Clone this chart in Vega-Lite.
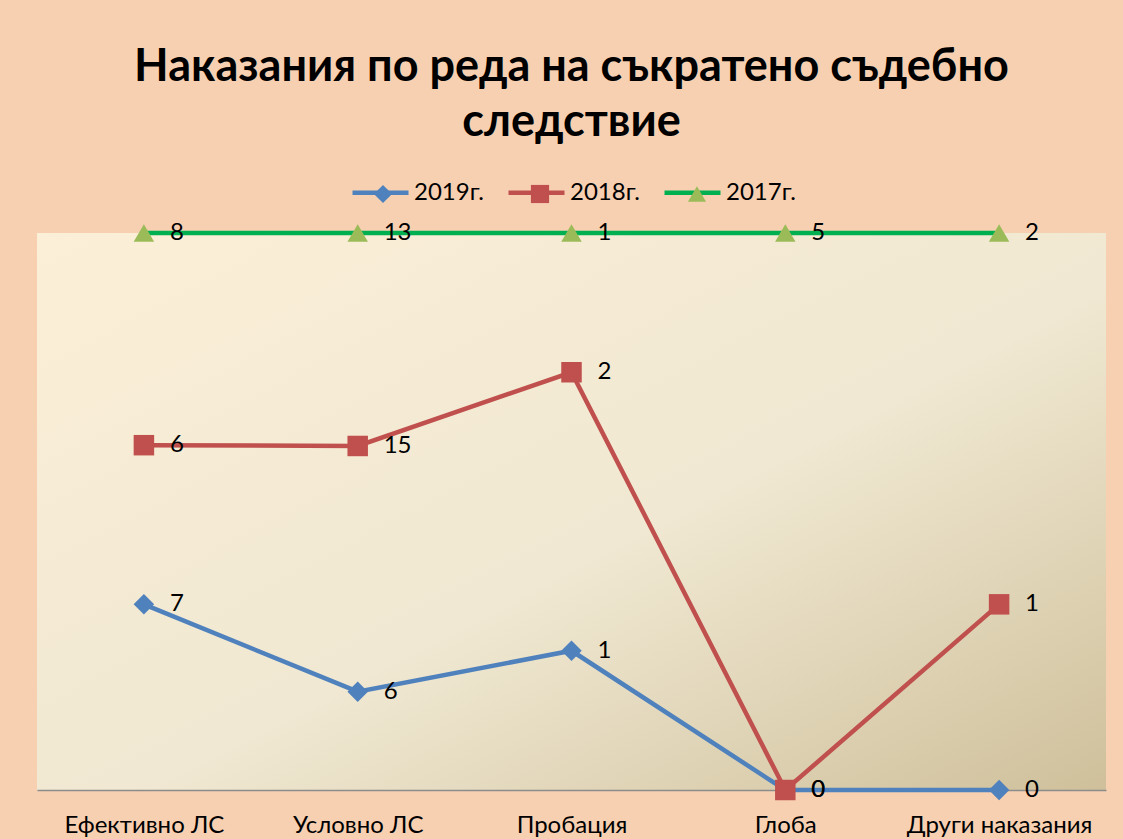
{
  "$schema": "https://vega.github.io/schema/vega-lite/v6.json",
  "width": 1069,
  "height": 557,
  "autosize": {"type": "none"},
  "padding": {"left": 37, "top": 233, "right": 17, "bottom": 49},
  "background": "#F7D0B2",
  "title": {
    "text": ["Наказания по реда на съкратено съдебно", "следствие"],
    "font": "Lato",
    "fontSize": 45,
    "fontWeight": "bold",
    "lineHeight": 55,
    "color": "#000000",
    "anchor": "middle",
    "offset": 17
  },
  "config": {
    "view": {
      "stroke": null,
      "fill": {
        "gradient": "linear",
        "x1": 0, "y1": 0, "x2": 1, "y2": 1,
        "stops": [
          {"offset": 0, "color": "#FCEFD7"},
          {"offset": 0.55, "color": "#F0E8D2"},
          {"offset": 1, "color": "#CFC09B"}
        ]
      }
    },
    "font": "Lato"
  },
  "data": {
    "values": [
      {"cat": "Ефективно ЛС", "series": "2019г.", "value": 7},
      {"cat": "Условно ЛС", "series": "2019г.", "value": 6},
      {"cat": "Пробация", "series": "2019г.", "value": 1},
      {"cat": "Глоба", "series": "2019г.", "value": 0},
      {"cat": "Други наказания", "series": "2019г.", "value": 0},
      {"cat": "Ефективно ЛС", "series": "2018г.", "value": 6},
      {"cat": "Условно ЛС", "series": "2018г.", "value": 15},
      {"cat": "Пробация", "series": "2018г.", "value": 2},
      {"cat": "Глоба", "series": "2018г.", "value": 0},
      {"cat": "Други наказания", "series": "2018г.", "value": 1},
      {"cat": "Ефективно ЛС", "series": "2017г.", "value": 8},
      {"cat": "Условно ЛС", "series": "2017г.", "value": 13},
      {"cat": "Пробация", "series": "2017г.", "value": 1},
      {"cat": "Глоба", "series": "2017г.", "value": 5},
      {"cat": "Други наказания", "series": "2017г.", "value": 2}
    ]
  },
  "transform": [
    {
      "stack": "value",
      "groupby": ["cat"],
      "sort": [{"field": "series", "order": "descending"}],
      "offset": "normalize",
      "as": ["y0", "y1"]
    }
  ],
  "encoding": {
    "x": {
      "field": "cat",
      "type": "nominal",
      "sort": ["Ефективно ЛС", "Условно ЛС", "Пробация", "Глоба", "Други наказания"],
      "scale": {"type": "point", "padding": 0.5},
      "axis": {
        "title": null,
        "labelAngle": 0,
        "labelFontSize": 24,
        "labelColor": "#000000",
        "labelPadding": 23,
        "labelLimit": 400,
        "ticks": false,
        "grid": false,
        "domainColor": "#8C8C8C",
        "domainWidth": 1.5
      }
    },
    "y": {
      "field": "y1",
      "type": "quantitative",
      "scale": {"domain": [0, 1], "nice": false, "zero": true},
      "axis": null
    }
  },
  "layer": [
    {
      "mark": {"type": "line", "strokeWidth": 4.5},
      "encoding": {
        "color": {
          "field": "series",
          "type": "nominal",
          "scale": {"domain": ["2019г.", "2018г.", "2017г."], "range": ["#4F81BD", "#C0504D", "#00B050"]},
          "legend": {
            "title": null,
            "orient": "none",
            "direction": "horizontal",
            "legendX": 313,
            "legendY": -71,
            "symbolType": "stroke",
            "symbolSize": 3136,
            "symbolStrokeWidth": 4.5,
            "labelFontSize": 24,
            "labelColor": "#000000",
            "labelOffset": 3,
            "columnPadding": 15
          }
        }
      }
    },
    {
      "mark": {"type": "point", "filled": true, "size": 420, "opacity": 1},
      "encoding": {
        "shape": {
          "field": "series",
          "type": "nominal",
          "sort": "descending",
          "scale": {"range": ["diamond", "square", "triangle-up"]},
          "legend": {
            "title": null,
            "orient": "none",
            "direction": "horizontal",
            "legendX": 313,
            "legendY": -51,
            "symbolSize": 330,
            "symbolStrokeWidth": 0,
            "symbolOffset": 21,
            "labelFontSize": 24,
            "labelColor": "#000000",
            "labelOpacity": 0,
            "labelOffset": 17,
            "columnPadding": 25
          }
        },
        "fill": {
          "field": "series",
          "type": "nominal",
          "sort": "descending",
          "scale": {"range": ["#4F81BD", "#C0504D", "#9BBB59"]},
          "legend": {
            "title": null,
            "orient": "none",
            "direction": "horizontal",
            "legendX": 313,
            "legendY": -51,
            "symbolSize": 330,
            "symbolStrokeWidth": 0,
            "symbolOffset": 21,
            "labelFontSize": 24,
            "labelColor": "#000000",
            "labelOpacity": 0,
            "labelOffset": 17,
            "columnPadding": 25
          }
        }
      }
    },
    {
      "mark": {"type": "text", "align": "left", "baseline": "middle", "dx": 26, "fontSize": 24, "color": "#000000"},
      "encoding": {
        "text": {"field": "value", "type": "quantitative"}
      }
    }
  ]
}
